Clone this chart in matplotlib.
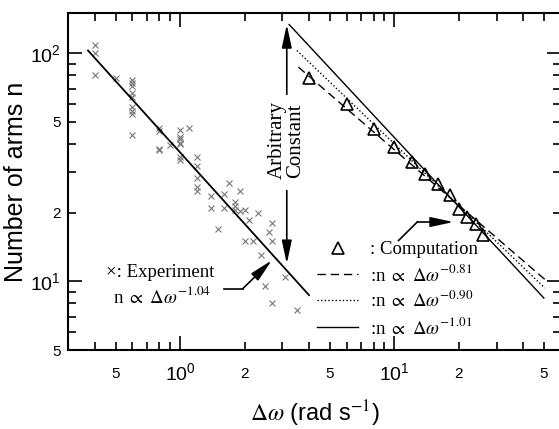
import math

import matplotlib
matplotlib.use('Agg')
import matplotlib.pyplot as plt
from matplotlib import ticker

plt.rcParams['font.family'] = ['Liberation Sans', 'DejaVu Sans']
plt.rcParams['mathtext.fontset'] = 'stix'

# experiment (crosses)
exp_dw = [0.40, 0.40, 0.40, 0.50,
          0.60, 0.60, 0.60, 0.60, 0.60, 0.60, 0.60, 0.60, 0.60,
          0.80, 0.80, 0.80, 0.80, 0.90,
          1.0, 1.0, 1.0, 1.0, 1.0, 1.0, 1.0, 1.1,
          1.2, 1.2, 1.2, 1.2, 1.2, 1.4, 1.4, 1.5, 1.6, 1.6, 1.7,
          1.8, 1.8, 1.8, 1.9, 1.9, 2.0, 2.0, 2.1, 2.2, 2.3, 2.4, 2.5, 2.6,
          2.7, 2.7, 2.7, 3.1, 3.5]
exp_n = [109, 100, 80, 78,
         76, 74, 72, 67, 64, 58, 56, 54, 44,
         47, 45.5, 38, 37.5, 39.5,
         46, 43, 42, 40.5, 40, 35, 34, 47,
         35, 32, 28.5, 26, 25, 23.6, 21, 17, 24.2, 21, 27,
         22.2, 21.5, 20.6, 25, 20.4, 20.6, 15, 18.6, 15, 20, 13.1, 9.5, 16.4,
         18, 15, 8, 10.5, 7.5]
exp_fit_x = [0.372, 4.0]
exp_fit_y = [102.8, 8.7]

# computation (triangles)
comp_dw = [4.0, 6.0, 8.0, 10.0, 12.1, 13.9, 16.0, 18.2, 20.1, 21.9, 24.1, 26.0]
comp_n = [78.0, 60.0, 46.7, 38.7, 33.3, 29.6, 26.8, 23.8, 20.8, 19.1, 17.9, 15.9]

fit_labels = [r':n $\propto\ \Delta\omega^{-0.81}$',
              r':n $\propto\ \Delta\omega^{-0.90}$',
              r':n $\propto\ \Delta\omega^{-1.01}$']
fit_x = [[3.57, 50.4], [3.51, 50.4], [3.23, 49.9]]
fit_y = [[86.9, 10.2], [102.8, 9.35], [133.6, 8.45]]
fit_styles = [(0, (6, 3.5)), (0, (1, 1.6)), '-']

fig = plt.figure(figsize=(5.59, 4.29), dpi=100)
ax = fig.add_axes([0.1216, 0.1841, 0.882, 0.7855])
ax.set_xscale('log')
ax.set_yscale('log')
ax.set_xlim(0.3, 60)
ax.set_ylim(5, 150)

ax.plot(exp_dw, exp_n, 'x', color='#777777', ms=5, mew=0.8)
ax.plot(exp_fit_x, exp_fit_y, '-', color='k', lw=1.3)

handles = []
h, = ax.plot(comp_dw, comp_n, '^', mfc='none', mec='k', ms=9, mew=1.2,
             label=': Computation')
handles.append(h)
for xs, ys, ls, lab in zip(fit_x, fit_y, fit_styles, fit_labels):
    h, = ax.plot(xs, ys, color='k', lw=1.0, ls=ls, label=lab)
    handles.append(h)

serif = ['Liberation Serif', 'DejaVu Serif']
ax.legend(handles=handles, loc='upper left', bbox_to_anchor=(0.49, 0.345),
          frameon=False, prop={'family': serif, 'size': 13.5},
          handlelength=2.2, handletextpad=0.6, labelspacing=0.3,
          numpoints=1, borderaxespad=0)

# experiment label
ax.text(0.077, 0.229, '\u00d7: Experiment', transform=ax.transAxes,
        family=serif, size=13.5, ha='left', va='center')
ax.text(0.091, 0.16, r'n $\propto\ \Delta\omega^{-1.04}$', transform=ax.transAxes,
        family=serif, size=13.5, ha='left', va='center')

arrow = dict(arrowstyle='-|>,head_length=1.4,head_width=0.3', color='k',
             lw=1.2, shrinkA=0, shrinkB=0, mutation_scale=10)
ax.plot([1.606, 1.963], [9.29, 9.29], color='k', lw=1.2)
ax.annotate('', xy=(2.68, 12.36), xytext=(1.963, 9.29), arrowprops=arrow)
ax.plot([10.47, 12.8], [15.1, 18.2], color='k', lw=1.2)
ax.annotate('', xy=(18.9, 18.2), xytext=(12.8, 18.2), arrowprops=arrow)

# arbitrary constant
ax.annotate('', xy=(3.15, 133.6), xytext=(3.15, 66), arrowprops=arrow)
ax.annotate('', xy=(3.15, 11.95), xytext=(3.15, 25), arrowprops=arrow)
ax.text(3.15, 41.5, 'Arbitrary\nConstant', rotation=90, family=serif, size=15,
        ha='center', va='center', multialignment='center', linespacing=0.95)


def minor_fmt(v, pos):
    m = round(v / 10 ** math.floor(math.log10(v) + 1e-9))
    return str(m) if m in (2, 5) else ''


for axis in (ax.xaxis, ax.yaxis):
    axis.set_major_locator(ticker.LogLocator(base=10))
    axis.set_minor_locator(ticker.LogLocator(base=10, subs=range(2, 10)))
    axis.set_minor_formatter(ticker.FuncFormatter(minor_fmt))

ax.tick_params(which='both', direction='in', top=True, right=True, width=1.2)
ax.tick_params(which='major', length=10, labelsize=14)
ax.tick_params(which='minor', length=6, labelsize=11)
ax.tick_params(axis='x', which='major', pad=9)
ax.tick_params(axis='x', which='minor', pad=12)
ax.tick_params(axis='y', which='both', pad=5)
for s in ax.spines.values():
    s.set_linewidth(1.5)

ax.set_xlabel(r'$\Delta\omega$ (rad s$^{-1}$)', fontsize=17, labelpad=10)
ax.set_ylabel('Number of arms n', fontsize=18, labelpad=2)

fig.savefig('out.png', dpi=100)
